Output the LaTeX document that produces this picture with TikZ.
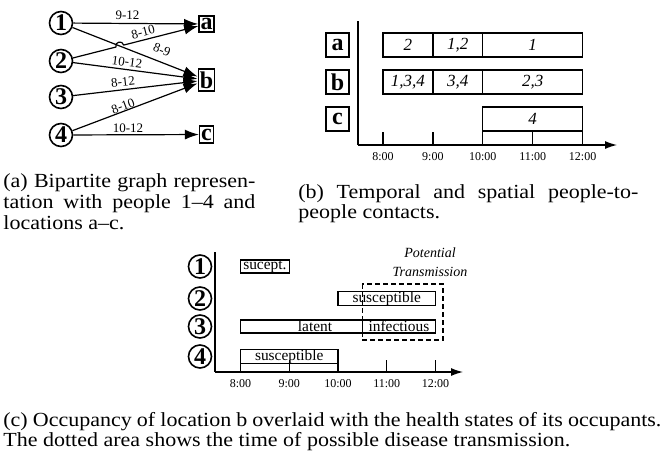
\documentclass[tikz,border=0pt]{standalone}
\usepackage{fontspec}
\setmainfont{Liberation Serif}
\newfontfamily\capfont{Liberation Serif}[FakeStretch=1.1,Ligatures=TeX]
\usetikzlibrary{arrows.meta,calc}

\tikzset{
  person/.style={circle,draw,thick,minimum size=11.5pt,inner sep=0pt,
    font=\fontsize{12}{12}\selectfont\bfseries},
  place/.style={draw,thick,inner xsep=0.75pt,inner ysep=1.25pt,
    font=\fontsize{12}{12}\selectfont\bfseries},
  bigplace/.style={draw,thick,minimum width=11.5pt,minimum height=12pt,inner sep=0pt,
    font=\fontsize{12}{12}\selectfont\bfseries},
  contact/.style={semithick,-{Latex[length=7pt,width=5pt]}},
  elabel/.style={inner sep=0pt,font=\fontsize{6.5}{7}\selectfont},
  slot/.style={draw,semithick,minimum height=12pt,inner sep=0pt,
    font=\fontsize{8.5}{9}\selectfont\itshape},
  state/.style={draw,semithick,minimum height=6.5pt,inner sep=0pt,
    font=\fontsize{7.7}{8}\selectfont},
  timelabel/.style={inner sep=0pt,font=\fontsize{6}{7}\selectfont},
  axis/.style={semithick},
  caption/.style={inner sep=0pt,anchor=base west,
    font=\capfont\fontsize{10}{10.4}\selectfont}
}

\begin{document}
\begin{tikzpicture}[x=0.5pt,y=-0.5pt]
  \useasboundingbox (0,0) rectangle (663,456);

  % (a) people and locations
  \node[person] (p1) at (61,23) {1};
  \node[person] (p2) at (61,61) {2};
  \node[person] (p3) at (61,97) {3};
  \node[person] (p4) at (61,135) {4};
  \node[place] (la) at (206.5,24) {a};
  \node[place] (lb) at (206.5,80) {b};
  \node[place] (lc) at (206.5,134.5) {c};

  \draw[contact] (p1) -- (la);
  \draw[contact] (p1) -- (lb);
  \coordinate (hop1) at ($(p2)!0.377!(la)$);
  \coordinate (hop2) at ($(p2)!0.431!(la)$);
  \draw[contact] (p2) -- (hop1) to[bend left=90,looseness=1.7] (hop2) -- (la);
  \draw[contact] (p2) -- (lb);
  \draw[contact] (p3) -- (lb);
  \draw[contact] (p4) -- (lb);
  \draw[contact] (p4) -- (lc);

  \node[elabel] (e1a) at (127.5,15) {9-12};
  \node[elabel,rotate=14.3] (e2a) at (143,32) {8-10};
  \node[elabel,rotate=-21.4] (e1b) at (162,50) {8-9};
  \node[elabel,rotate=-7.4] (e2b) at (127,62) {10-12};
  \node[elabel,rotate=6.7] (e3b) at (123,82) {8-12};
  \node[elabel,rotate=20.7] (e4b) at (123,106) {8-10};
  \node[elabel] (e4c) at (128,128) {10-12};

  % (b) contacts over time
  \coordinate (borig) at (358,145);
  \coordinate (btop) at (358,21);
  \coordinate (bright) at (617,145);
  \draw[axis] (btop) -- (borig);
  \draw[axis,-{Latex[length=6pt,width=4pt]}] (borig) -- (bright);

  \node[bigplace] (ba) at (337.5,45) {a};
  \node[bigplace] (bb) at (337.5,82) {b};
  \node[bigplace] (bc) at (337.5,119) {c};

  \node[slot,minimum width=24.95pt] (ba1) at (407.95,45) {2};
  \node[slot,minimum width=24.95pt] (ba2) at (457.85,45) {1,2};
  \node[slot,minimum width=49.9pt] (ba3) at (532.7,45) {1};
  \node[slot,minimum width=24.95pt] (bb1) at (407.95,82) {1,3,4};
  \node[slot,minimum width=24.95pt] (bb2) at (457.85,82) {3,4};
  \node[slot,minimum width=49.9pt] (bb3) at (532.7,82) {2,3};
  \node[slot,minimum width=49.9pt] (bc1) at (532.7,119) {4};

  \draw[axis] (383,132) -- (383,145);
  \draw[axis] (432.9,132) -- (432.9,145);
  \draw[axis] (482.8,132) -- (482.8,145);
  \draw[axis] (532.7,132) -- (532.7,145);
  \draw[axis] (582.6,132) -- (582.6,145);
  \node[timelabel] (bt8) at (383,157) {8:00};
  \node[timelabel] (bt9) at (432.9,157) {9:00};
  \node[timelabel] (bt10) at (482.8,157) {10:00};
  \node[timelabel] (bt11) at (532.7,157) {11:00};
  \node[timelabel] (bt12) at (582.6,157) {12:00};

  % (c) health states at location b
  \node[person] (c1) at (200,266.5) {1};
  \node[person] (c2) at (200,298.5) {2};
  \node[person] (c3) at (200,326.5) {3};
  \node[person] (c4) at (200,356.5) {4};

  \coordinate (corig) at (215,372);
  \coordinate (ctop) at (215,252);
  \coordinate (cright) at (463,372);
  \draw[axis] (ctop) -- (corig);
  \draw[axis,-{Latex[length=6pt,width=4pt]}] (corig) -- (cright);

  \draw[thick,dash pattern=on 2.5pt off 1.5pt] (362.4,284) rectangle (443,340);
  \node[align=center,inner sep=0pt,font=\fontsize{7}{9.5}\selectfont\itshape]
    (ptrans) at (430,262.5) {Potential\\Transmission};

  \node[state,minimum width=24.4pt] (s1) at (264.9,266.5) {sucept.};
  \node[state,minimum width=48.75pt] (s2) at (386.75,298.5) {susceptible};
  \node[state,minimum width=60.95pt] (s3a) at (301.45,326.5) {};
  \node[inner sep=0pt,font=\fontsize{7.7}{8}\selectfont] (s3t) at (315,326.5) {latent};
  \node[state,minimum width=36.55pt] (s3b) at (398.95,326.5) {infectious};
  \node[state,minimum width=48.75pt] (s4) at (289.25,356.5) {susceptible};

  \draw[axis] (240.5,360) -- (240.5,372);
  \draw[axis] (289.25,360) -- (289.25,372);
  \draw[axis] (338,360) -- (338,372);
  \draw[axis] (386.75,360) -- (386.75,372);
  \draw[axis] (435.5,360) -- (435.5,372);
  \node[timelabel] (ct8) at (240.5,384) {8:00};
  \node[timelabel] (ct9) at (289.25,384) {9:00};
  \node[timelabel] (ct10) at (338,384) {10:00};
  \node[timelabel] (ct11) at (386.75,384) {11:00};
  \node[timelabel] (ct12) at (435.5,384) {12:00};

  % captions
  \node[caption] (capa) at (3,187.5) {\parbox[t]{126pt}{%
    \makebox[126pt][s]{(a) Bipartite graph represen-}\\
    \makebox[126pt][s]{tation with people 1--4 and}\\
    locations a--c.}};
  \node[caption] (capb) at (298,198) {\parbox[t]{170pt}{%
    \makebox[170pt][s]{(b) Temporal and spatial people-to-}\\
    people contacts.}};
  \node[caption] (capc) at (3,426) {\parbox[t]{329pt}{%
    \makebox[329pt][s]{(c) Occupancy of location b overlaid with the health states of its occupants.}\\
    The dotted area shows the time of possible disease transmission.}};
\end{tikzpicture}
\end{document}
